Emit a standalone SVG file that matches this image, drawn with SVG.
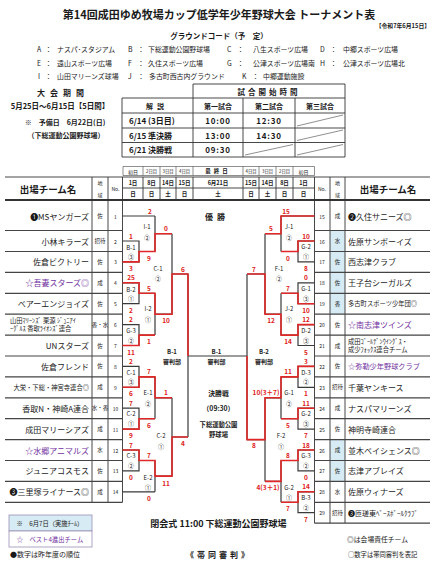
<svg xmlns="http://www.w3.org/2000/svg" width="433" height="568" viewBox="0 0 433 568">
<style>
text{font-family:"Noto Sans CJK JP","Noto Sans",sans-serif;fill:#1a1a1a;dominant-baseline:central}
.m{text-anchor:middle}
.e{text-anchor:end}
.b{font-weight:700}
.ttl{font-size:11px;font-weight:700}
.gc{font-size:6.9px}
.nm{font-size:8px}
.ar{font-size:5.5px;text-anchor:middle}
.no{font-size:5px;text-anchor:middle}
.sc{font-size:6.5px;font-weight:700;fill:#e02020;text-anchor:middle}
.lb{font-size:6px;text-anchor:middle;fill:#222}
.pu{fill:#7030a0}
.tl{stroke:#333;stroke-width:0.9;fill:none}
.rl{stroke:#444;stroke-width:1.2;fill:none}
.bk{stroke:#3a3a3a;stroke-width:1.2;fill:none}
.rd{stroke:#e02828;stroke-width:1.6;fill:none}
.th{stroke:#444;stroke-width:0.6;fill:none}
.blue{fill:#d6ebf3}
</style>
<rect width="433" height="568" fill="#ffffff"/>

<!-- header texts -->
<g id="title">
<text class="ttl m" x="219" y="14">第14回成田ゆめ牧場カップ低学年少年野球大会 トーナメント表</text>
<text class="b e" x="430" y="25.5" font-size="5.8">【令和7年6月15日】</text>
<text class="b m" x="219" y="35" font-size="7.5">グラウンドコード（予　定）</text>
</g>
<g id="ground-codes">
<text class="gc" x="37" y="48.5">A</text><text class="gc" x="45" y="48.5">：</text><text class="gc" x="57" y="48.5">ナスパ･スタジアム</text>
<text class="gc" x="128" y="48.5">B</text><text class="gc" x="137.5" y="48.5">：</text><text class="gc" x="148" y="48.5">下総運動公園野球場</text>
<text class="gc" x="227" y="48.5">C</text><text class="gc" x="237" y="48.5">：</text><text class="gc" x="253" y="48.5">八生スポーツ広場</text>
<text class="gc" x="320" y="48.5">D</text><text class="gc" x="330" y="48.5">：</text><text class="gc" x="343" y="48.5">中郷スポーツ広場</text>
<text class="gc" x="37" y="62.5">E</text><text class="gc" x="45" y="62.5">：</text><text class="gc" x="57" y="62.5">遠山スポーツ広場</text>
<text class="gc" x="128" y="62.5">F</text><text class="gc" x="137.5" y="62.5">：</text><text class="gc" x="148" y="62.5">久住スポーツ広場</text>
<text class="gc" x="227" y="62.5">G</text><text class="gc" x="237" y="62.5">：</text><text class="gc" x="253" y="62.5">公津スポーツ広場南</text>
<text class="gc" x="320" y="62.5">H</text><text class="gc" x="330" y="62.5">：</text><text class="gc" x="343" y="62.5">公津スポーツ広場北</text>
<text class="gc" x="38" y="76">I</text><text class="gc" x="45" y="76">：</text><text class="gc" x="57" y="76">山田マリーンズ球場</text>
<text class="gc" x="128" y="76">J</text><text class="gc" x="137.5" y="76">：</text><text class="gc" x="149" y="76">多古町西古内グラウンド</text>
<text class="gc" x="242" y="76">K</text><text class="gc" x="252" y="76">：</text><text class="gc" x="263" y="76">中郷運動施設</text>
</g>

<g id="period">
<text class="b m" x="63" y="92" font-size="8" letter-spacing="5">大会期間</text>
<text class="b m" x="60" y="105.5" font-size="7.5">5月25日～6月15日【5日間】</text>
<text class="b m" x="65" y="121.5" font-size="7">※　予備日　6月22日(日)</text>
<text class="b m" x="66" y="135" font-size="7">（下総運動公園野球場）</text>
</g>

<g id="schedule">
<path class="tl" d="M193,84H345V157 M193,84V157 M122,98H345 M122,113H345 M122,128H345 M122,142.5H345 M122,157H345 M122,98V157 M243,98V157 M295,98V157"/>
<path class="th" d="M297,126L343,115 M297,140.5L343,130 M245,155L293,144.5 M297,155L343,144.5"/>
<text class="b m" x="269" y="91" font-size="7.5" letter-spacing="3">試合開始時間</text>
<text class="b m" x="157" y="105.5" font-size="7" letter-spacing="4">解説</text>
<text class="b m" x="218" y="105.5" font-size="7">第一試合</text>
<text class="b m" x="269" y="105.5" font-size="7">第二試合</text>
<text class="b m" x="320" y="105.5" font-size="7">第三試合</text>
<text class="b" x="129" y="120.5" font-size="8">6/14 (3日目)</text>
<text class="b" x="129" y="135" font-size="8">6/15 準決勝</text>
<text class="b" x="129" y="149.8" font-size="8">6/21 決勝戦</text>
<text class="b m" x="218" y="120.5" font-size="8" letter-spacing="0.8">10:00</text>
<text class="b m" x="269" y="120.5" font-size="8" letter-spacing="0.8">12:30</text>
<text class="b m" x="218" y="135" font-size="8" letter-spacing="0.8">13:00</text>
<text class="b m" x="269" y="135" font-size="8" letter-spacing="0.8">14:30</text>
<text class="b m" x="218" y="149.8" font-size="8" letter-spacing="0.8">09:30</text>
</g>

<!-- table grid -->
<g id="table">
<rect class="blue" x="330" y="230.5" width="15" height="83.7"/>
<rect class="blue" x="330" y="439.6" width="15" height="41.8"/>
<path class="th" d="M123,166.5H314.5 M123,175.5H314.5 M123,166.5V175.5 M143,166.5V175.5 M160,166.5V175.5 M176,166.5V175.5 M193,166.5V175.5 M243,166.5V175.5 M259,166.5V175.5 M276,166.5V175.5 M293,166.5V175.5 M314.5,166.5V175.5"/>
<path class="tl" d="M5,177H430 M122.5,188H314.5 M143,177V200 M160,177V200 M176,177V200 M193,177V200 M243,177V200 M259,177V200 M276,177V200 M293,177V200"/>
<path stroke="#333" stroke-width="1.8" d="M5,200H430"/>
<path class="tl" d="M92,177V502.3 M108,177V502.3 M122.5,177V502.3 M314.5,177V523.2 M330,177V523.2 M345,177V523.2"/>
<path class="rl" d="M5,230.5H122.5 M5,251.5H122.5 M5,272.4H122.5 M5,293.3H122.5 M5,314.2H122.5 M5,335.1H122.5 M5,356H122.5 M5,376.9H122.5 M5,397.8H122.5 M5,418.7H122.5 M5,439.6H122.5 M5,460.5H122.5 M5,481.4H122.5 M5,502.3H122.5
M314.5,230.5H430 M314.5,251.5H430 M314.5,272.4H430 M314.5,293.3H430 M314.5,314.2H430 M314.5,335.1H430 M314.5,356H430 M314.5,376.9H430 M314.5,397.8H430 M314.5,418.7H430 M314.5,439.6H430 M314.5,460.5H430 M314.5,481.4H430 M314.5,502.3H430 M314.5,523.2H430"/>
<g font-size="4.6">
<text class="m" x="133" y="171" font-size="5">初日</text><text class="m" x="151.5" y="171" font-size="4.3">2日目</text><text class="m" x="168" y="171" font-size="4.3">3日目</text><text class="m" x="184.5" y="171" font-size="4.3">4日目</text>
<text class="m b" x="218" y="171" font-size="5.5" letter-spacing="3">最終日</text>
<text class="m" x="251" y="171" font-size="4.3">4日目</text><text class="m" x="267.5" y="171" font-size="4.3">3日目</text><text class="m" x="284.5" y="171" font-size="4.3">2日目</text><text class="m" x="303.5" y="171" font-size="5">初日</text>
</g>
<text class="b m" x="48" y="188.5" font-size="9.5">出場チーム名</text>
<text class="b m" x="388" y="188.5" font-size="9.5">出場チーム名</text>
<text class="m" x="100" y="182.5" font-size="5">地</text><text class="m" x="100" y="194" font-size="5">域</text>
<text class="m" x="115.5" y="188.5" font-size="5">No.</text>
<text class="m" x="322" y="188.5" font-size="5">No.</text>
<text class="m" x="337.5" y="182.5" font-size="5">地</text><text class="m" x="337.5" y="194" font-size="5">域</text>
<g class="b" font-size="5.5">
<text class="m" x="133" y="182.5">1日</text><text class="m" x="151.5" y="182.5">8日</text><text class="m" x="168" y="182.5">14日</text><text class="m" x="184.5" y="182.5">15日</text>
<text class="m" x="218" y="182.5">6月21日</text>
<text class="m" x="251" y="182.5">15日</text><text class="m" x="267.5" y="182.5">14日</text><text class="m" x="284.5" y="182.5">8日</text><text class="m" x="303.5" y="182.5">1日</text>
<text class="m" x="133" y="194">日</text><text class="m" x="151.5" y="194">日</text><text class="m" x="168" y="194">土</text><text class="m" x="184.5" y="194">日</text>
<text class="m" x="218" y="194">土</text>
<text class="m" x="251" y="194">日</text><text class="m" x="267.5" y="194">土</text><text class="m" x="284.5" y="194">日</text><text class="m" x="303.5" y="194">日</text>
</g>
</g>

<!-- left teams -->
<g id="team-1"><text class="nm e" x="89" y="216">❶MSヤンガーズ</text><text class="ar" x="100" y="216">佐</text><text class="no" x="115.5" y="216">1</text></g>
<g id="team-2"><text class="nm e" x="89" y="241">小林キラーズ</text><text class="ar" x="100" y="241">招待</text><text class="no" x="115.5" y="241">2</text></g>
<g id="team-3"><text class="nm e" x="89" y="261.9">佐倉ビクトリー</text><text class="ar" x="100" y="261.9">佐</text><text class="no" x="115.5" y="261.9">3</text></g>
<g id="team-4"><text class="nm e pu" x="89" y="282.8">☆吾妻スターズ◎</text><text class="ar" x="100" y="282.8">成</text><text class="no" x="115.5" y="282.8">4</text></g>
<g id="team-5"><text class="nm e" x="89" y="303.7">ベアーエンジョイズ</text><text class="ar" x="100" y="303.7">佐</text><text class="no" x="115.5" y="303.7">5</text></g>
<g id="team-6"><text x="10" y="320.8" font-size="6.3">山田ﾏﾘｰﾝｽﾞ 栗源 ｼﾞｭﾆｱｲ</text><text x="10" y="328.6" font-size="6.3">ｰｸﾞﾙｽ 香取ﾗｲｵﾝｽﾞ連合</text><text class="ar" x="100" y="324.6" font-size="4.3">香・水</text><text class="no" x="115.5" y="324.6">6</text></g>
<g id="team-7"><text class="nm e" x="89" y="345.5">UNスターズ</text><text class="ar" x="100" y="345.5">佐</text><text class="no" x="115.5" y="345.5">7</text></g>
<g id="team-8"><text class="nm e" x="89" y="366.4">佐倉フレンド</text><text class="ar" x="100" y="366.4">佐</text><text class="no" x="115.5" y="366.4">8</text></g>
<g id="team-9"><text class="e" x="89" y="387.3" font-size="6.3">大栄・下総・神宮寺連合◎</text><text class="ar" x="100" y="387.3">成</text><text class="no" x="115.5" y="387.3">9</text></g>
<g id="team-10"><text class="nm e" x="89" y="408.2">香取N・神崎A連合</text><text class="ar" x="100" y="408.2" font-size="4.3">水・香</text><text class="no" x="115.5" y="408.2">10</text></g>
<g id="team-11"><text class="nm e" x="89" y="429.1">成田マリーシアズ</text><text class="ar" x="100" y="429.1">成</text><text class="no" x="115.5" y="429.1">11</text></g>
<g id="team-12"><text class="nm e pu" x="89" y="450">☆水郷アニマルズ</text><text class="ar" x="100" y="450">水</text><text class="no" x="115.5" y="450">12</text></g>
<g id="team-13"><text class="nm e" x="89" y="470.9">ジュニアコスモス</text><text class="ar" x="100" y="470.9">佐</text><text class="no" x="115.5" y="470.9">13</text></g>
<g id="team-14"><text class="nm e" x="89" y="491.8">❸三里塚ライナース◎</text><text class="ar" x="100" y="491.8">成</text><text class="no" x="115.5" y="491.8">14</text></g>

<!-- right teams -->
<g id="team-15"><text class="nm" x="348" y="216">❷久住サニーズ◎</text><text class="ar" x="337.5" y="216">成</text><text class="no" x="322" y="216">15</text></g>
<g id="team-16"><text class="nm" x="348" y="241">佐原サンボーイズ</text><text class="ar" x="337.5" y="241">水</text><text class="no" x="322" y="241">16</text></g>
<g id="team-17"><text class="nm" x="348" y="261.9">西志津クラブ</text><text class="ar" x="337.5" y="261.9">佐</text><text class="no" x="322" y="261.9">17</text></g>
<g id="team-18"><text class="nm" x="348" y="282.8">王子台シーガルズ</text><text class="ar" x="337.5" y="282.8">佐</text><text class="no" x="322" y="282.8">18</text></g>
<g id="team-19"><text x="348" y="303.7" font-size="6.3">多古町スポーツ少年団◎</text><text class="ar" x="337.5" y="303.7">香</text><text class="no" x="322" y="303.7">19</text></g>
<g id="team-20"><text class="nm pu" x="348" y="324.6">☆南志津ツインズ</text><text class="ar" x="337.5" y="324.6">佐</text><text class="no" x="322" y="324.6">20</text></g>
<g id="team-21"><text x="348" y="341.5" font-size="6.3">成田ｺﾞｰﾙﾃﾞﾝｳｲﾝｸﾞｽ・</text><text x="348" y="349.5" font-size="6.3">成少ﾌｫｯｸｽ連合チーム</text><text class="ar" x="337.5" y="345.5">成</text><text class="no" x="322" y="345.5">21</text></g>
<g id="team-22"><text class="pu" x="348" y="366.4" font-size="7.2">☆弥勒少年野球クラブ</text><text class="ar" x="337.5" y="366.4">佐</text><text class="no" x="322" y="366.4">22</text></g>
<g id="team-23"><text class="nm" x="348" y="387.3">千葉ヤンキース</text><text class="ar" x="337.5" y="387.3">招待</text><text class="no" x="322" y="387.3">23</text></g>
<g id="team-24"><text class="nm" x="348" y="408.2">ナスパマリーンズ</text><text class="ar" x="337.5" y="408.2">成</text><text class="no" x="322" y="408.2">24</text></g>
<g id="team-25"><text class="nm" x="348" y="429.1">神明寺崎連合</text><text class="ar" x="337.5" y="429.1">佐</text><text class="no" x="322" y="429.1">25</text></g>
<g id="team-26"><text class="nm" x="348" y="450">並木ベイシェンス◎</text><text class="ar" x="337.5" y="450">成</text><text class="no" x="322" y="450">26</text></g>
<g id="team-27"><text class="nm" x="348" y="470.9">志津アブレイズ</text><text class="ar" x="337.5" y="470.9">佐</text><text class="no" x="322" y="470.9">27</text></g>
<g id="team-28"><text class="nm" x="348" y="491.8">佐原ウィナーズ</text><text class="ar" x="337.5" y="491.8">水</text><text class="no" x="322" y="491.8">28</text></g>
<g id="team-29"><text x="348" y="512.7" font-size="7">❸匝瑳東ﾍﾞｰｽﾎﾞｰﾙｸﾗﾌﾞ</text><text class="ar" x="337.5" y="512.7">招待</text><text class="no" x="322" y="512.7">29</text></g>

<!-- connectors -->
<g id="connectors">
<path class="bk" d="M122.5,216H155 M122.5,241H139V261.9H122.5 M139,251.5H155 M122.5,282.8H139V303.7H122.5 M139,293.3H155 M122.5,324.6H139V345.5H122.5 M139,335.1H155 M122.5,366.4H139V387.3H122.5 M139,376.9H155 M122.5,408.2H139V429.1H122.5 M139,418.7H155 M122.5,450H139V470.9H122.5 M139,460.5H155 M122.5,491.8H155 M155,216V251.5 M155,233.7H172 M155,293.3V335.1 M155,314.2H172 M155,376.9V418.7 M155,397.8H172 M155,460.5V491.8 M155,476.1H172 M172,233.7V314.2 M172,274H188 M172,397.8V476.1 M172,437H188 M188,274V437 M188,356H247"/>
<path class="bk" d="M314.5,216H281 M314.5,241H298V261.9H314.5 M298,251.5H281 M314.5,282.8H298V303.7H314.5 M298,293.3H281 M314.5,324.6H298V345.5H314.5 M298,335.1H281 M314.5,366.4H298V387.3H314.5 M298,376.9H281 M314.5,408.2H298V429.1H314.5 M298,418.7H281 M314.5,450H298V470.9H314.5 M298,460.5H281 M314.5,491.8H298V512.7H314.5 M298,502.3H281 M281,216V251.5 M281,233.7H265 M281,293.3V335.1 M281,314.2H265 M281,376.9V418.7 M281,397.8H265 M281,460.5V502.3 M281,481.4H265 M265,233.7V314.2 M265,274H247 M265,397.8V481.4 M265,439.6H247 M247,274V439.6"/>
<path class="rd" d="M122.5,261.9H139V251.5H155V233.7H172"/>
<path class="rd" d="M122.5,282.8H139V293.3H155V314.2H172V274H188V356"/>
<path class="rd" d="M122.5,345.5H139V335.1H155"/>
<path class="rd" d="M122.5,387.3H139V376.9H155V397.8H172"/>
<path class="rd" d="M122.5,429.1H139V418.7H155"/>
<path class="rd" d="M122.5,450H139V460.5H155V476.1H172V437H188"/>
<path class="rd" d="M314.5,216H281V233.7H265"/>
<path class="rd" d="M314.5,241H298V251.5H281"/>
<path class="rd" d="M314.5,303.7H298V293.3H281"/>
<path class="rd" d="M314.5,324.6H298V335.1H281V314.2H265V274H247"/>
<path class="rd" d="M314.5,366.4H298V376.9H281V397.8H265V439.6H247V356"/>
<path class="rd" d="M314.5,408.2H298V418.7H281"/>
<path class="rd" d="M314.5,450H298V460.5H281V481.4H265"/>
<path class="rd" d="M314.5,491.8H298V502.3H281"/>
</g>

<!-- scores -->
<g id="scores">
<text class="sc" x="131" y="235.5">1</text><text class="sc" x="131" y="268">3</text>
<text class="sc" x="131" y="277.3">25</text><text class="sc" x="131" y="309.7">2</text>
<text class="sc" x="131" y="319.1">2</text><text class="sc" x="131" y="351.5">11</text>
<text class="sc" x="131" y="360.9">2</text><text class="sc" x="131" y="393.3">6</text>
<text class="sc" x="131" y="402.7">7</text><text class="sc" x="131" y="435.1">9</text>
<text class="sc" x="131" y="444.5">7</text><text class="sc" x="131" y="476.9">0</text>
<text class="sc" x="150" y="210.5">2</text><text class="sc" x="149" y="257.5">9</text>
<text class="sc" x="149" y="287.8">5</text><text class="sc" x="149" y="341">1</text>
<text class="sc" x="149" y="371.4">7</text><text class="sc" x="149" y="424.5">6</text>
<text class="sc" x="149" y="455">7</text><text class="sc" x="149" y="497.5">0</text>
<text class="sc" x="166" y="228.2">0</text><text class="sc" x="166" y="320">10</text>
<text class="sc" x="166" y="392.3">1</text><text class="sc" x="166" y="482.5">11</text>
<text class="sc" x="183" y="268.5">6</text><text class="sc" x="183" y="443">4</text>
<text class="sc" x="306" y="235.5">10</text><text class="sc" x="306" y="268">8</text>
<text class="sc" x="306" y="277.3">0</text><text class="sc" x="306" y="309.7">10</text>
<text class="sc" x="306" y="319.1">12</text><text class="sc" x="306" y="351.5">5</text>
<text class="sc" x="306" y="360.9">3</text><text class="sc" x="306" y="393.3">1</text>
<text class="sc" x="306" y="402.7">11</text><text class="sc" x="306" y="435.1">7</text>
<text class="sc" x="306" y="444.5">18</text><text class="sc" x="306" y="476.9">0</text>
<text class="sc" x="306" y="486.3">14</text><text class="sc" x="306" y="518.7">7</text>
<text class="sc" x="286" y="210.5">15</text><text class="sc" x="288" y="257.5">0</text>
<text class="sc" x="288" y="287.8">7</text><text class="sc" x="288" y="341">14</text>
<text class="sc" x="288" y="371.4">11</text><text class="sc" x="288" y="424.5">5</text>
<text class="sc" x="288" y="455">8</text><text class="sc" x="288" y="508">7</text>
<text class="sc" x="271" y="228.2">5</text><text class="sc" x="271" y="320">12</text>
<text class="sc" x="266" y="392.3">10(3＋7)</text><text class="sc" x="268" y="487">4(3＋1)</text>
<text class="sc" x="254" y="268.5">7</text><text class="sc" x="254" y="445">8</text>
</g>

<!-- match labels -->
<g id="matches">
<text class="lb" x="131" y="247.5">B-1</text><text class="lb" x="131" y="256.8">③</text>
<text class="lb" x="131" y="289">B-2</text><text class="lb" x="131" y="298.5">①</text>
<text class="lb" x="131" y="330.5">G-3</text><text class="lb" x="131" y="340.5">②</text>
<text class="lb" x="131" y="372">C-1</text><text class="lb" x="131" y="381.5">③</text>
<text class="lb" x="131" y="413.5">C-2</text><text class="lb" x="131" y="423.5">①</text>
<text class="lb" x="131" y="455.5">C-3</text><text class="lb" x="131" y="465.5">②</text>
<text class="lb" x="147" y="226">I-1</text><text class="lb" x="147" y="237">②</text>
<text class="lb" x="148" y="308">I-2</text><text class="lb" x="148" y="319">①</text>
<text class="lb" x="148" y="392.5">E-1</text><text class="lb" x="148" y="403">②</text>
<text class="lb" x="148" y="477">E-2</text><text class="lb" x="148" y="487">①</text>
<text class="lb" x="158" y="268">C-1</text><text class="lb" x="158" y="278">②</text>
<text class="lb" x="161" y="435">C-2</text><text class="lb" x="161" y="446">①</text>
<text class="lb" x="306" y="246.5">G-2</text><text class="lb" x="306" y="256.5">①</text>
<text class="lb" x="306" y="288">G-1</text><text class="lb" x="306" y="298">③</text>
<text class="lb" x="306" y="330">D-2</text><text class="lb" x="306" y="340">③</text>
<text class="lb" x="306" y="372">D-3</text><text class="lb" x="306" y="381.5">②</text>
<text class="lb" x="306" y="413.5">G-2</text><text class="lb" x="306" y="423.5">③</text>
<text class="lb" x="306" y="455.5">G-3</text><text class="lb" x="306" y="465.5">②</text>
<text class="lb" x="306" y="497">B-3</text><text class="lb" x="306" y="507">②</text>
<text class="lb" x="289" y="226">J-1</text><text class="lb" x="289" y="237">②</text>
<text class="lb" x="289" y="308">J-2</text><text class="lb" x="289" y="319">①</text>
<text class="lb" x="289" y="392.5">G-1</text><text class="lb" x="289" y="403">②</text>
<text class="lb" x="289" y="487">G-2</text><text class="lb" x="289" y="497">①</text>
<text class="lb" x="279" y="268">F-1</text><text class="lb" x="279" y="278">②</text>
<text class="lb" x="281" y="435">F-2</text><text class="lb" x="281" y="446">①</text>
<text class="lb b" x="172" y="351">B-1</text><text class="lb b" x="172" y="361">審判部</text>
<text class="lb b" x="216.5" y="351">B-1</text><text class="lb b" x="216.5" y="361">審判部</text>
<text class="lb b" x="264" y="351">B-2</text><text class="lb b" x="264" y="361">審判部</text>
<text class="b m" x="217" y="216" font-size="8" letter-spacing="4">優勝</text>
<text class="b m" x="218.5" y="393" font-size="6.8">決勝戦</text>
<text class="b m" x="218.5" y="408" font-size="6.8">（09:30）</text>
<text class="b m" x="218.5" y="424" font-size="6.3">下総運動公園</text>
<text class="b m" x="218.5" y="434" font-size="6.3">野球場</text>
</g>

<!-- footer -->
<g id="footer">
<text class="b m" x="218.5" y="523.5" font-size="9">閉会式 11:00 下総運動公園野球場</text>
<rect x="9" y="515" width="83" height="16" fill="#d6ebf3" stroke="#9a8fb5" stroke-width="0.8"/>
<rect x="9" y="531" width="83" height="16" fill="#ffffff" stroke="#9a8fb5" stroke-width="0.8"/>
<text class="m" x="50" y="523" font-size="6.3">※　6月7日（実施ﾁｰﾑ）</text>
<text class="m pu" x="50" y="539" font-size="6.3">☆　ベスト4進出チーム</text>
<text x="347" y="539" font-size="6.8">◎は会場責任チーム</text>
<text x="10" y="554" font-size="7">●数字は昨年度の順位</text>
<text class="b m" x="219" y="554" font-size="8" letter-spacing="3">《帯同審判》</text>
<text x="348" y="554" font-size="6.3">○数字は帯同審判を表記</text>
</g>
</svg>
